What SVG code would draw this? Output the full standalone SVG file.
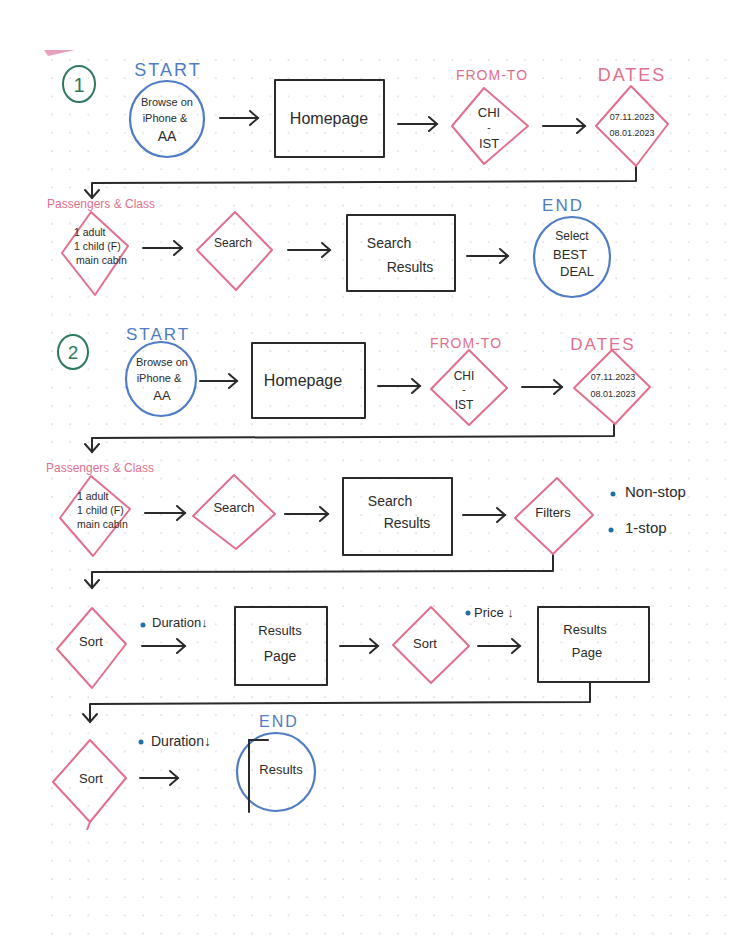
<svg xmlns="http://www.w3.org/2000/svg" width="729" height="949" viewBox="0 0 729 949">
<style>
.ink{fill:none;stroke:#2a2a2a;stroke-width:2;stroke-linecap:round;stroke-linejoin:round}
.pink{fill:none;stroke:#e0708e;stroke-width:2;stroke-linejoin:round}
.blue{fill:none;stroke:#4f7cc4;stroke-width:2.2}
.green{fill:none;stroke:#2f7a5e;stroke-width:2}
.t{font-family:"Liberation Sans","DejaVu Sans",sans-serif;fill:#2a2a2a;text-anchor:middle}
.tl{font-family:"Liberation Sans","DejaVu Sans",sans-serif;fill:#2a2a2a}
.pl{font-family:"Liberation Sans","DejaVu Sans",sans-serif;fill:#e0708e;text-anchor:middle}
.bl{font-family:"Liberation Sans","DejaVu Sans",sans-serif;fill:#4f7cc4;text-anchor:middle}
.gl{font-family:"Liberation Sans","DejaVu Sans",sans-serif;fill:#2f7a5e;text-anchor:middle}
.dot{fill:#1f6fa8}
</style>
<defs>
<pattern id="grid" x="50" y="58" width="18.2" height="18.2" patternUnits="userSpaceOnUse">
<circle cx="2" cy="2" r="0.8" fill="#cfcfcf"/>
</pattern>
<marker id="arr" markerWidth="14" markerHeight="16" refX="11" refY="8" orient="auto" markerUnits="userSpaceOnUse">
<polyline points="3,1 11,8 3,15" fill="none" stroke="#2a2a2a" stroke-width="2" stroke-linecap="round"/>
</marker>
</defs>
<rect width="729" height="949" fill="#ffffff"/>
<rect x="44" y="52" width="685" height="888" fill="url(#grid)"/>
<polygon points="44,50 75,50 48,56" fill="#e8a0b8"/>

<g id="connectors">
<line class="ink" x1="220" y1="118" x2="258" y2="118" marker-end="url(#arr)"/>
<line class="ink" x1="398" y1="124" x2="437" y2="124" marker-end="url(#arr)"/>
<line class="ink" x1="543" y1="126" x2="585" y2="126" marker-end="url(#arr)"/>
<polyline class="ink" points="636,166 636,181 92,183 92,198" marker-end="url(#arr)"/>
<line class="ink" x1="143" y1="248" x2="182" y2="248" marker-end="url(#arr)"/>
<line class="ink" x1="288" y1="250" x2="330" y2="250" marker-end="url(#arr)"/>
<line class="ink" x1="467" y1="256" x2="508" y2="256" marker-end="url(#arr)"/>
<line class="ink" x1="200" y1="381" x2="237" y2="381" marker-end="url(#arr)"/>
<line class="ink" x1="378" y1="386" x2="420" y2="386" marker-end="url(#arr)"/>
<line class="ink" x1="522" y1="387" x2="562" y2="387" marker-end="url(#arr)"/>
<polyline class="ink" points="614,424 614,436 92,438 92,452" marker-end="url(#arr)"/>
<line class="ink" x1="145" y1="513" x2="185" y2="513" marker-end="url(#arr)"/>
<line class="ink" x1="285" y1="514" x2="328" y2="514" marker-end="url(#arr)"/>
<line class="ink" x1="463" y1="515" x2="505" y2="515" marker-end="url(#arr)"/>
<polyline class="ink" points="553,554 553,571 92,572 92,588" marker-end="url(#arr)"/>
<line class="ink" x1="142" y1="646" x2="185" y2="646" marker-end="url(#arr)"/>
<line class="ink" x1="340" y1="646" x2="378" y2="646" marker-end="url(#arr)"/>
<line class="ink" x1="478" y1="646" x2="520" y2="646" marker-end="url(#arr)"/>
<polyline class="ink" points="590,682 590,702 90,704 90,722" marker-end="url(#arr)"/>
<line class="ink" x1="140" y1="778" x2="178" y2="778" marker-end="url(#arr)"/>
</g>

<g id="num1">
<ellipse class="green" cx="79" cy="84" rx="16" ry="18"/>
<text class="gl" x="79" y="92" font-size="20">1</text>
</g>
<g id="start1">
<text class="bl" x="168" y="76" font-size="18" letter-spacing="2">START</text>
<ellipse class="blue" cx="167" cy="119" rx="37" ry="38"/>
<text class="t" x="167" y="106" font-size="11">Browse on</text>
<text class="t" x="165" y="122" font-size="11">iPhone &amp;</text>
<text class="t" x="167" y="141" font-size="14">AA</text>
</g>
<g id="home1">
<rect class="ink" x="275" y="80" width="109" height="77"/>
<text class="t" x="329" y="124" font-size="16">Homepage</text>
</g>
<g id="fromto1">
<text class="pl" x="492" y="80" font-size="14" letter-spacing="1">FROM-TO</text>
<polygon class="pink" points="484,88 528,126 484,164 452,126"/>
<text class="t" x="489" y="117" font-size="13">CHI</text>
<text class="t" x="489" y="131" font-size="10">-</text>
<text class="t" x="489" y="148" font-size="13">IST</text>
</g>
<g id="dates1">
<text class="pl" x="632" y="81" font-size="18" letter-spacing="2">DATES</text>
<polygon class="pink" points="631,86 668,124 636,166 596,126"/>
<text class="t" x="632" y="120" font-size="9">07.11.2023</text>
<text class="t" x="632" y="136" font-size="9">08.01.2023</text>
</g>
<g id="pax1">
<text class="pl" x="101" y="208" font-size="12">Passengers &amp; Class</text>
<polygon class="pink" points="91,212 128,246 95,295 62,253"/>
<text class="tl" x="74" y="236" font-size="10.5">1 adult</text>
<text class="tl" x="74" y="250" font-size="10.5">1 child (F)</text>
<text class="tl" x="76" y="264" font-size="10.5">main cabin</text>
</g>
<g id="search1">
<polygon class="pink" points="235,212 272,250 236,290 197,250"/>
<text class="t" x="233" y="247" font-size="12">Search</text>
</g>
<g id="results1">
<rect class="ink" x="347" y="215" width="108" height="76"/>
<text class="t" x="389" y="248" font-size="14">Search</text>
<text class="t" x="410" y="272" font-size="14">Results</text>
</g>
<g id="end1">
<text class="bl" x="563" y="211" font-size="17" letter-spacing="2">END</text>
<ellipse class="blue" cx="572" cy="257" rx="38" ry="40"/>
<text class="t" x="572" y="240" font-size="12">Select</text>
<text class="t" x="570" y="259" font-size="13">BEST</text>
<text class="t" x="577" y="276" font-size="13">DEAL</text>
</g>

<g id="num2">
<ellipse class="green" cx="73" cy="352" rx="15" ry="17"/>
<text class="gl" x="73" y="359" font-size="19">2</text>
</g>
<g id="start2">
<text class="bl" x="158" y="340" font-size="17" letter-spacing="2">START</text>
<ellipse class="blue" cx="161" cy="379" rx="35" ry="37"/>
<text class="t" x="162" y="366" font-size="11">Browse on</text>
<text class="t" x="159" y="382" font-size="11">iPhone &amp;</text>
<text class="t" x="162" y="400" font-size="13">AA</text>
</g>
<g id="home2">
<rect class="ink" x="252" y="343" width="113" height="75"/>
<text class="t" x="303" y="386" font-size="16">Homepage</text>
</g>
<g id="fromto2">
<text class="pl" x="466" y="348" font-size="14" letter-spacing="1">FROM-TO</text>
<polygon class="pink" points="469,350 507,388 469,425 431,389"/>
<text class="t" x="464" y="380" font-size="12">CHI</text>
<text class="t" x="464" y="393" font-size="10">-</text>
<text class="t" x="464" y="409" font-size="12">IST</text>
</g>
<g id="dates2">
<text class="pl" x="603" y="350" font-size="17" letter-spacing="2">DATES</text>
<polygon class="pink" points="612,350 650,387 615,424 574,388"/>
<text class="t" x="613" y="380" font-size="9">07.11.2023</text>
<text class="t" x="613" y="397" font-size="9">08.01.2023</text>
</g>
<g id="pax2">
<text class="pl" x="100" y="472" font-size="12">Passengers &amp; Class</text>
<polygon class="pink" points="91,476 130,509 93,556 60,518"/>
<text class="tl" x="77" y="500" font-size="10.5">1 adult</text>
<text class="tl" x="77" y="514" font-size="10.5">1 child (F)</text>
<text class="tl" x="77" y="528" font-size="10.5">main cabin</text>
</g>
<g id="search2">
<polygon class="pink" points="234,475 275,514 236,549 193,516"/>
<text class="t" x="234" y="512" font-size="13">Search</text>
</g>
<g id="results2">
<rect class="ink" x="343" y="478" width="109" height="77"/>
<text class="t" x="390" y="506" font-size="14">Search</text>
<text class="t" x="407" y="528" font-size="14">Results</text>
</g>
<g id="filters">
<polygon class="pink" points="557,478 593,515 553,554 515,518"/>
<text class="t" x="553" y="517" font-size="13">Filters</text>
</g>
<g id="filteropts">
<circle class="dot" cx="613" cy="494" r="2.5"/>
<text class="tl" x="625" y="497" font-size="15">Non-stop</text>
<circle class="dot" cx="611" cy="530" r="2.5"/>
<text class="tl" x="625" y="533" font-size="15">1-stop</text>
</g>
<g id="sort1">
<polygon class="pink" points="92,608 126,644 92,688 57,649"/>
<text class="t" x="91" y="646" font-size="13">Sort</text>
<circle class="dot" cx="143" cy="625" r="2.5"/>
<text class="tl" x="152" y="627" font-size="13">Duration↓</text>
</g>
<g id="page1">
<rect class="ink" x="235" y="607" width="92" height="78"/>
<text class="t" x="280" y="635" font-size="13">Results</text>
<text class="t" x="280" y="661" font-size="14">Page</text>
</g>
<g id="sort2">
<polygon class="pink" points="431,607 469,646 431,683 393,645"/>
<text class="t" x="425" y="648" font-size="13">Sort</text>
<circle class="dot" cx="468" cy="613" r="2.5"/>
<text class="tl" x="474" y="617" font-size="13">Price ↓</text>
</g>
<g id="page2">
<rect class="ink" x="538" y="607" width="111" height="75"/>
<text class="t" x="585" y="634" font-size="13">Results</text>
<text class="t" x="587" y="657" font-size="13">Page</text>
</g>
<g id="sort3">
<polygon class="pink" points="90,740 126,778 90,822 53,782"/>
<line class="pink" x1="90" y1="822" x2="87" y2="830"/>
<text class="t" x="91" y="783" font-size="13">Sort</text>
<circle class="dot" cx="141" cy="742" r="2.5"/>
<text class="tl" x="151" y="746" font-size="14">Duration↓</text>
</g>
<g id="end2">
<text class="bl" x="279" y="727" font-size="16" letter-spacing="2">END</text>
<ellipse class="blue" cx="276" cy="772" rx="39" ry="39"/>
<line class="ink" x1="249" y1="740" x2="249" y2="812" stroke-width="1.6"/>
<line class="ink" x1="249" y1="740" x2="268" y2="740" stroke-width="1.6"/>
<text class="t" x="281" y="774" font-size="13">Results</text>
</g>
</svg>
